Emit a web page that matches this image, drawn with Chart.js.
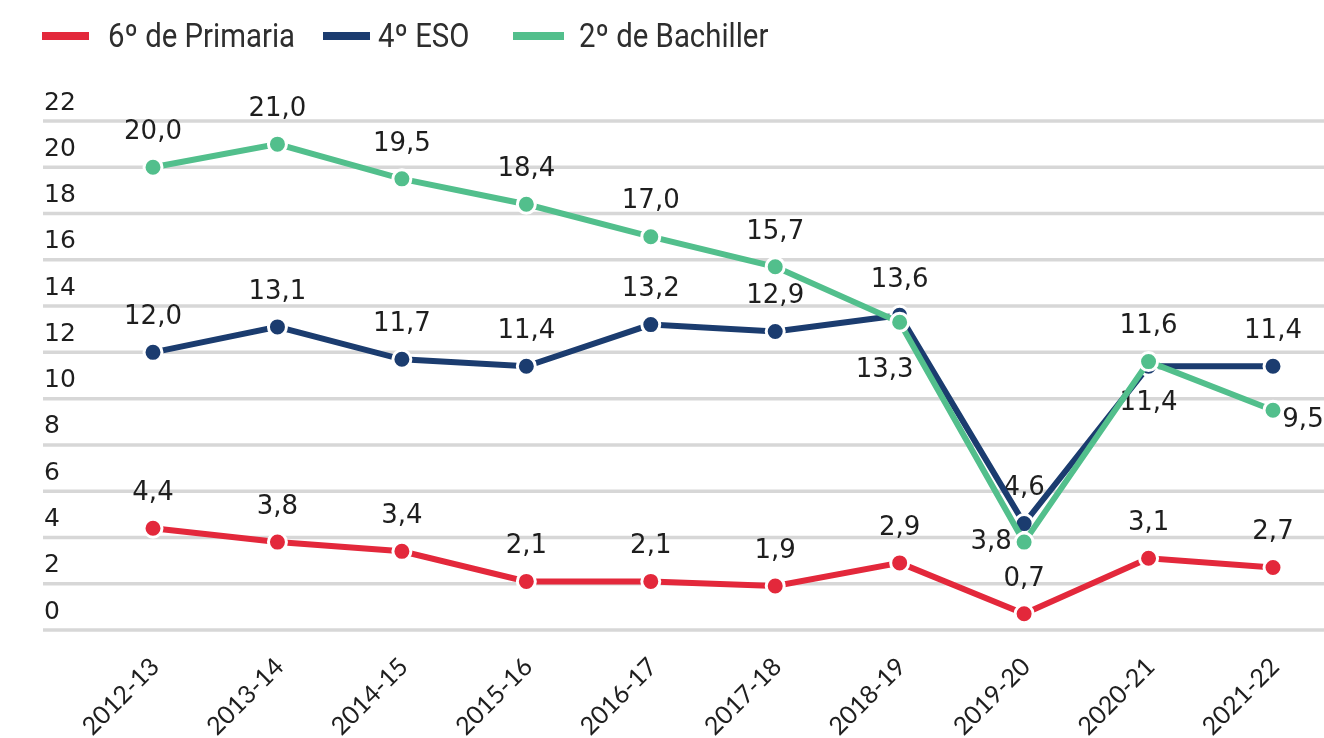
<!DOCTYPE html>
<html>
<head>
<meta charset="utf-8">
<script src="https://cdn.jsdelivr.net/npm/chart.js@4.4.1/dist/chart.umd.min.js"></script>
<style>
html,body{margin:0;padding:0;background:#fff;overflow:hidden}
#c{display:block}
</style>
</head>
<body>
<canvas id="c" width="1324" height="738"></canvas>
<script>
// ---- data ----
const categories = ['2012-13','2013-14','2014-15','2015-16','2016-17','2017-18','2018-19','2019-20','2020-21','2021-22'];
const primaria  = [4.4, 3.8, 3.4, 2.1, 2.1, 1.9, 2.9, 0.7, 3.1, 2.7];
const eso       = [12.0, 13.1, 11.7, 11.4, 13.2, 12.9, 13.6, 4.6, 11.4, 11.4];
const bachiller = [20.0, 21.0, 19.5, 18.4, 17.0, 15.7, 13.3, 3.8, 11.6, 9.5];
const seriesNames = ['6º de Primaria', '4º ESO', '2º de Bachiller'];
const yTicks = [0, 2, 4, 6, 8, 10, 12, 14, 16, 18, 20, 22];

// ---- styles ----
const COLORS = ['#e3283b', '#1b3c6f', '#52bf8c'];
const TEXT = '#1e1e1e';

// label placement exceptions (dataset index : point index -> offset)
const labelPlacement = {
  '2:6': {dx: -15, dy: 48},
  '2:7': {dx: -33, dy: 0},
  '1:8': {dx: 0, dy: 37},
  '2:9': {dx: 30, dy: 10}
};

const fmt = v => v.toFixed(1).replace('.', ',');

const gridPlugin = {
  id: 'gridAndLabels',
  beforeDatasetsDraw(chart) {
    const ctx = chart.ctx;
    const y = chart.scales.y;
    ctx.save();
    ctx.strokeStyle = '#d7d7d7';
    ctx.lineWidth = 3.5;
    ctx.font = '25px "DejaVu Sans"';
    ctx.fillStyle = TEXT;
    ctx.textAlign = 'left';
    ctx.textBaseline = 'middle';
    yTicks.forEach(v => {
      const py = y.getPixelForValue(v);
      ctx.beginPath();
      ctx.moveTo(43, py);
      ctx.lineTo(chart.width, py);
      ctx.stroke();
      ctx.fillText(String(v), 44, py - 18);
    });
    // data labels
    ctx.textAlign = 'center';
    ctx.font = '26px "DejaVu Sans"';
    chart.data.datasets.forEach((ds, di) => {
      const meta = chart.getDatasetMeta(di);
      meta.data.forEach((pt, i) => {
        const p = labelPlacement[di + ':' + i] || {dx: 0, dy: -35};
        ctx.fillText(fmt(ds.data[i]), pt.x + p.dx, pt.y + p.dy);
      });
    });
    ctx.restore();
  }
};

const legendPlugin = {
  id: 'customLegend',
  afterDraw(chart) {
    const ctx = chart.ctx;
    const items = [
      {sx: 42, sw: 47, tx: 108},
      {sx: 323, sw: 47, tx: 378},
      {sx: 513, sw: 51, tx: 579}
    ];
    ctx.save();
    ctx.font = '33px Roboto';
    ctx.textBaseline = 'alphabetic';
    ctx.textAlign = 'left';
    chart.data.datasets.forEach((ds, i) => {
      const it = items[i];
      ctx.fillStyle = ds.borderColor;
      ctx.fillRect(it.sx, 32, it.sw, 8);
      ctx.save();
      ctx.translate(it.tx, 47);
      ctx.scale(0.89, 1);
      ctx.fillStyle = '#2e2e2e';
      ctx.fillText(ds.label, 0, 0);
      ctx.restore();
    });
    ctx.restore();
  }
};

const makeDs = (label, data, color, order) => ({
  label, data,
  borderColor: color,
  backgroundColor: color,
  borderWidth: 6,
  pointRadius: 9,
  pointBorderWidth: 3,
  pointBackgroundColor: color,
  pointBorderColor: '#ffffff',
  tension: 0,
  clip: false,
  order
});

new Chart(document.getElementById('c'), {
  type: 'line',
  data: {
    labels: categories,
    datasets: [
      makeDs(seriesNames[0], primaria, COLORS[0], 2),
      makeDs(seriesNames[1], eso, COLORS[1], 1),
      makeDs(seriesNames[2], bachiller, COLORS[2], 0)
    ]
  },
  options: {
    responsive: false,
    animation: false,
    devicePixelRatio: 1,
    events: [],
    layout: {padding: {left: 153, right: 51, top: 121, bottom: 0}},
    plugins: {legend: {display: false}, tooltip: {enabled: false}},
    scales: {
      x: {
        offset: false,
        grid: {display: false},
        border: {display: false},
        ticks: {
          font: {family: 'Lato', size: 25},
          color: TEXT,
          minRotation: 45,
          maxRotation: 45,
          padding: 14,
          labelOffset: 2,
          autoSkip: false
        },
        afterFit(scale) { scale.height = 108; }
      },
      y: {
        display: false,
        min: 0,
        max: 22
      }
    }
  },
  plugins: [gridPlugin, legendPlugin]
});
</script>
</body>
</html>
